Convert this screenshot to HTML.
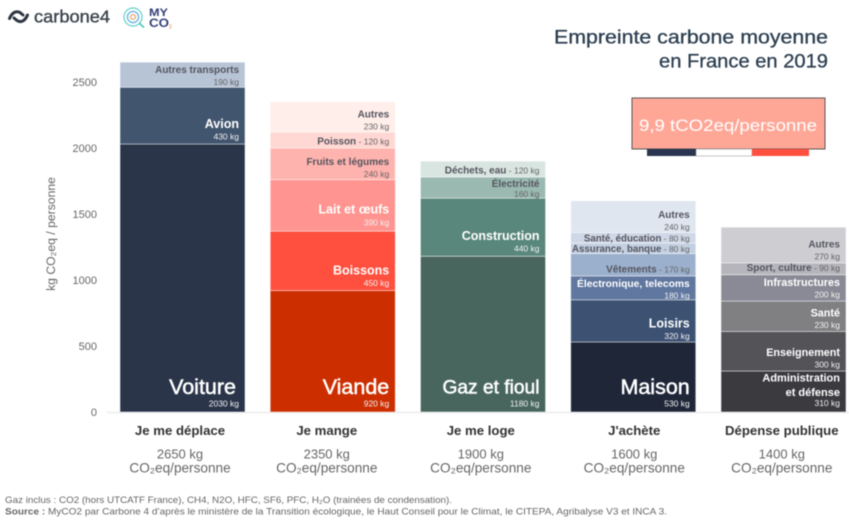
<!DOCTYPE html>
<html lang="fr">
<head>
<meta charset="utf-8">
<title>Empreinte carbone moyenne en France en 2019</title>
<style>
html,body{margin:0;padding:0;background:#fff;width:849px;height:522px;overflow:hidden}
svg{display:block;filter:blur(.4px);font-family:"Liberation Sans",sans-serif}
</style>
</head>
<body>
<svg id="chart" width="849" height="522" viewBox="0 0 849 522" xmlns="http://www.w3.org/2000/svg">
  <rect width="849" height="522" fill="#fff"/>
  <g>
    <path d="M9.5 18.5 C12 12.5,16 10.5,20 12.5 L23 15 M27.5 15 C25 21,21 23,17 20.5 L14 18" fill="none" stroke="#2f3640" stroke-width="3" stroke-linecap="round"/>
    <text x="34" y="22.5" font-size="17.5" fill="#3a414b" stroke="#3a414b" stroke-width=".35" textLength="76" lengthAdjust="spacingAndGlyphs">carbone4</text>
  </g>
  <g fill="none">
    <circle cx="133" cy="17" r="9" stroke="#5fd0c8" stroke-width="1.2"/>
    <circle cx="133" cy="17" r="5.6" stroke="#6cb6e6" stroke-width="1.4"/>
    <circle cx="133" cy="17" r="2.4" stroke="#e9a86b" stroke-width="1.3"/>
    <path d="M139 23 L144 27.5" stroke="#4cc6c0" stroke-width="1.6"/>
    <text x="149" y="16" font-size="11" font-weight="700" fill="#34407a" textLength="19" lengthAdjust="spacingAndGlyphs">MY</text>
    <text x="149" y="27" font-size="11.5" font-weight="700" fill="#34407a" textLength="20" lengthAdjust="spacingAndGlyphs">CO</text>
    <text x="169" y="28.5" font-size="5" font-weight="700" fill="#e9a86b">2</text>
  </g>
  <g font-size="19" text-anchor="end" fill="#2c3e50" stroke="#2c3e50" stroke-width=".3">
    <text x="828" y="43.5" textLength="274" lengthAdjust="spacingAndGlyphs">Empreinte carbone moyenne</text>
    <text x="828" y="67.5" textLength="169" lengthAdjust="spacingAndGlyphs">en France en 2019</text>
  </g>
  <g>
    <rect x="632" y="98" width="193" height="51" fill="#ffa797" stroke="#555" stroke-width="1"/>
    <rect x="647" y="149" width="49" height="7" fill="#2a3550"/>
    <rect x="696" y="149" width="56" height="7" fill="#fff" stroke="#888" stroke-width=".5"/>
    <rect x="752" y="149" width="57" height="7" fill="#ff4f3e"/>
    <text x="728" y="131" font-size="17" fill="#fff" text-anchor="middle" textLength="178" lengthAdjust="spacingAndGlyphs">9,9 tCO2eq/personne</text>
  </g>
  <text transform="translate(55,234) rotate(-90)" font-size="12.2" fill="#666" text-anchor="middle">kg CO₂eq / personne</text>
  <g id="axis"></g>
  <g id="bars"></g>
  <g id="cats"></g>
  <g font-size="9.3" fill="#666">
    <text x="5" y="503" textLength="447" lengthAdjust="spacingAndGlyphs">Gaz inclus : CO2 (hors UTCATF France), CH4, N2O, HFC, SF6, PFC, H₂O (trainées de condensation).</text>
    <text x="5" y="514.5" textLength="662" lengthAdjust="spacingAndGlyphs"><tspan font-weight="700">Source :</tspan> MyCO2 par Carbone 4 d’après le ministère de la Transition écologique, le Haut Conseil pour le Climat, le CITEPA, Agribalyse V3 et INCA 3.</text>
  </g>
</svg>
<script>
const categories = ['Je me déplace', 'Je mange', 'Je me loge', "J'achète", 'Dépense publique'];
const totals = [2650, 2350, 1900, 1600, 1400];
const yTicks = [0, 500, 1000, 1500, 2000, 2500];

const deplaceValues = [2030, 430, 190];
const deplaceNames = ['Voiture', 'Avion', 'Autres transports'];
const mangeValues = [920, 450, 390, 240, 120, 230];
const mangeNames = ['Viande', 'Boissons', 'Lait et œufs', 'Fruits et légumes', 'Poisson', 'Autres'];
const logeValues = [1180, 440, 160, 120];
const logeNames = ['Gaz et fioul', 'Construction', 'Électricité', 'Déchets, eau'];
const acheteValues = [530, 320, 180, 170, 80, 80, 240];
const acheteNames = ['Maison', 'Loisirs', 'Électronique, telecoms', 'Vêtements', 'Assurance, banque', 'Santé, éducation', 'Autres'];
const publicValues = [310, 300, 230, 200, 90, 270];
const publicNames = ['Administration|et défense', 'Enseignement', 'Santé', 'Infrastructures', 'Sport, culture', 'Autres'];

const seriesValues = [deplaceValues, mangeValues, logeValues, acheteValues, publicValues];
const seriesNames = [deplaceNames, mangeNames, logeNames, acheteNames, publicNames];

/* Presentation only */
const seriesColors = [
  ['#2a3549', '#41556f', '#b7c4d6'],
  ['#cc2e00', '#ff4f3e', '#ff9490', '#ffb3ae', '#ffd7d3', '#ffeeea'],
  ['#48665e', '#5a877b', '#9ab9b1', '#d9e5e1'],
  ['#1e2638', '#3d5273', '#60779f', '#9bb0cd', '#c3d0e2', '#cfd8e7', '#dfe6f0'],
  ['#3b3a3f', '#535358', '#808082', '#8a8a96', '#b5b5bb', '#cdcdd2']
];
const seriesKinds = [
  ['bigInset', 'mid', 'small'],
  ['big', 'mid', 'midHigh', 'small', 'inline', 'small'],
  ['bigNarrow', 'mid', 'tight', 'inline'],
  ['big', 'midLow', 'whiteTight', 'inline', 'inlineLow', 'inlineLow', 'small'],
  ['admin', 'whiteSmall', 'whiteSmall', 'whiteSmall', 'inline', 'smallHigh']
];
const kindStyles = {
  big: {size: 21.5, weight: 400, stroke: .5, inset: 0, fill: '#fff', valueFill: '#f2f2f2', d: 5.5, gap: 12.5},
  bigInset: {size: 21.5, weight: 400, stroke: .5, inset: 3, fill: '#fff', valueFill: '#f2f2f2', d: 5.5, gap: 12.5},
  bigNarrow: {size: 19.2, weight: 400, stroke: .5, inset: 0, fill: '#fff', valueFill: '#f2f2f2', d: 5.5, gap: 13},
  mid: {size: 12.5, weight: 700, inset: 0, fill: '#fff', valueFill: '#f0f0f0', d: 4.5, gap: 11.5},
  midHigh: {size: 12.5, weight: 700, inset: 0, fill: '#fff', valueFill: '#f0f0f0', d: 5.5, gap: 12},
  midLow: {size: 12.5, weight: 700, inset: 0, fill: '#fff', valueFill: '#f0f0f0', d: 3, gap: 11.5},
  whiteSmall: {size: 10.8, weight: 700, inset: 0, fill: '#fff', valueFill: '#f0f0f0', d: 3.5, gap: 11.5},
  whiteTight: {size: 10.3, weight: 700, inset: 0, fill: '#fff', valueFill: '#f0f0f0', d: 1.5, gap: 11.5},
  admin: {size: 11, weight: 700, inset: 0, fill: '#fff', valueFill: '#f0f0f0', d: 6, gap: 10, lineGap: 14.5},
  small: {size: 10, weight: 700, inset: 0, fill: '#55555e', valueFill: '#666', d: 2.5, gap: 12},
  smallHigh: {size: 10, weight: 700, inset: 0, fill: '#55555e', valueFill: '#666', d: 3.5, gap: 12},
  tight: {size: 10, weight: 700, inset: 0, fill: '#55555e', valueFill: '#666', d: 1, gap: 10},
  inline: {size: 10, weight: 700, inset: 0, fill: '#55555e', valueFill: '#666', d: 3.5, gap: 0},
  inlineLow: {size: 9.7, weight: 700, inset: 0, fill: '#55555e', valueFill: '#666', d: 1.5, gap: 0}
};
const labelNudge = [-2.5, -6, -2.2, 1, -1.7];

const SVG_NS = 'http://www.w3.org/2000/svg';
const barLeft = 120, barStep = 150.25, barWidth = 125;
const y0 = 412, pxPerKg = 0.132;
function yScale(v) { return y0 - v * pxPerKg; }
function xScale(i) { return barLeft + i * barStep; }
function slug(s) {
  return s.toLowerCase().normalize('NFD').replace(/[\u0300-\u036f]/g, '').replace(/œ/g, 'oe').replace(/[^a-z0-9]+/g, '-').replace(/^-|-$/g, '');
}
function make(tag, attrs, parent, content) {
  const el = document.createElementNS(SVG_NS, tag);
  for (const k in attrs) el.setAttribute(k, attrs[k]);
  if (content !== undefined) el.textContent = content;
  parent.appendChild(el);
  return el;
}

const axisG = document.getElementById('axis');
const axisLine = make('line', {x1: 107, x2: 849, y1: y0 + .5, y2: y0 + .5, stroke: '#ececec', 'stroke-width': 1.5}, axisG);


yTicks.forEach(function (t) {
  const tick = make('text', {x: 97, y: yScale(t) + 4, 'font-size': 11, fill: '#666', 'text-anchor': 'end'}, axisG, String(t));
  
  
});

const barsG = document.getElementById('bars');
seriesValues.forEach(function (values, i) {
  const group = make('g', {}, barsG);
  
  
  const x = xScale(i), right = x + barWidth - 6;
  let acc = 0;
  values.forEach(function (v, j) {
    const bottom = yScale(acc), top = yScale(acc + v);
    acc += v;
    const name = seriesNames[i][j], kind = seriesKinds[i][j], st = kindStyles[kind];
    const rect = make('rect', {x: x, y: top, width: barWidth, height: bottom - top, fill: seriesColors[i][j], stroke: '#fff', 'stroke-opacity': .55, 'stroke-width': .8}, group);
    
    
    const base = bottom - st.d;
    if (kind === 'inline' || kind === 'inlineLow') {
      const label = make('text', {x: right, y: base, 'text-anchor': 'end', 'font-size': st.size, 'font-weight': st.weight, fill: st.fill}, group, name);
      
      
      make('tspan', {'font-size': 8.5, 'font-weight': 400, fill: st.valueFill}, label, ' - ' + v + ' kg');
    } else {
      const val = make('text', {x: right, y: base, 'text-anchor': 'end', 'font-size': 8.5, fill: st.valueFill}, group, v + ' kg');
      
      
      const lines = name.split('|');
      lines.forEach(function (line, k) {
        const lineY = base - st.gap - (lines.length - 1 - k) * (st.lineGap || 14);
        const label = make('text', {x: right - st.inset, y: lineY, 'text-anchor': 'end', 'font-size': st.size, 'font-weight': st.weight, fill: st.fill}, group, line);
        if (st.stroke) {
          label.setAttribute('stroke', st.fill);
          label.setAttribute('stroke-width', st.stroke);
        }
        
        
      });
    }
  });
});

const catsG = document.getElementById('cats');
categories.forEach(function (c, i) {
  const cx = xScale(i) + barWidth / 2 + labelNudge[i];
  const cat = make('text', {x: cx, y: 435, 'text-anchor': 'middle', 'font-size': 13.2, 'font-weight': 700, fill: '#333'}, catsG, c);
  
  
  const tot = make('text', {x: cx, y: 458.5, 'text-anchor': 'middle', 'font-size': 13, fill: '#666'}, catsG, totals[i] + ' kg');
  
  
  const unit = make('text', {x: cx, y: 472.5, 'text-anchor': 'middle', 'font-size': 13.6, fill: '#666'}, catsG, 'CO₂eq/personne');
  
  
});
</script>
</body>
</html>
